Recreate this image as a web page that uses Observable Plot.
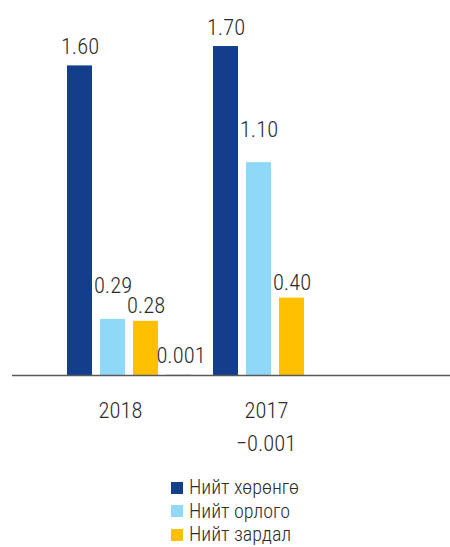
<!DOCTYPE html>
<html>
<head>
<meta charset="utf-8">
<script src="https://cdn.jsdelivr.net/npm/d3@7"></script>
<script src="https://cdn.jsdelivr.net/npm/@observablehq/plot@0.6"></script>
<style>
  body { margin: 0; background: #fff; }
  #chart { width: 450px; }
  .legend { margin-top: 11px; padding-left: 171px; font-family: "Roboto Condensed", "Open Sans", sans-serif; font-weight: 300; font-size: 20px; color: #2b2b2b; }
  .legend div { height: 23.5px; line-height: 23.5px; display: flex; align-items: center; }
  .legend span.sw { width: 12px; height: 12px; display: inline-block; margin-right: 6px; }
</style>
</head>
<body>
<div id="chart"></div>
<script>
const years = ["2018", "2017"];
const series = ["Нийт хөрөнгө", "Нийт орлого", "Нийт зардал", "Цэвэр ашиг"];
const values2018 = [1.60, 0.29, 0.28, 0.001];
const values2017 = [1.70, 1.10, 0.40, -0.001];
const colors = ["#133e8c", "#8fd8f8", "#ffc000", "#4f5366"];
const legendSeries = series.slice(0, 3);

const data = [];
years.forEach((yr, yi) => {
  const vals = yi === 0 ? values2018 : values2017;
  series.forEach((s, si) => data.push({year: yr, series: s, si, value: vals[si]}));
});

const font = '"Roboto Condensed", "Open Sans", sans-serif';
const band = 146, slot = 33, barW = 25, first = 11;
const labelGap = [12, 26, 8, 12];

const marks = [];
series.forEach((s, si) => {
  const sub = data.filter(d => d.series === s);
  const left = first + slot * si;
  marks.push(Plot.barY(sub, {
    x: "year", y: "value", fill: colors[si],
    insetLeft: left, insetRight: band - left - barW
  }));
  const dx = left + barW / 2 - band / 2;
  const fmt = si === 3 ? d3.format(".3f") : d3.format(".2f");
  marks.push(Plot.text(sub.filter(d => d.value >= 0), {
    x: "year", y: "value", text: d => fmt(d.value),
    dx: dx + (si === 3 ? 2 : 0), dy: -labelGap[si], lineAnchor: "bottom",
    fontSize: 22.5, fontWeight: 300, fill: "#2b2b2b"
  }));
  marks.push(Plot.text(sub.filter(d => d.value < 0), {
    x: "year", y: "value", text: d => fmt(d.value),
    dx: dx - 59, dy: 75, lineAnchor: "bottom",
    fontSize: 22.5, fontWeight: 300, fill: "#2b2b2b"
  }));
});
marks.push(Plot.ruleY([0], {stroke: "#595959", strokeWidth: 1.5}));
marks.push(Plot.axisX({tickSize: 0, tickPadding: 27, dx: -9, fontSize: 22.5, fontWeight: 300, fill: "#2b2b2b", label: null}));

const chart = Plot.plot({
  width: 450,
  height: 465,
  marginLeft: 12,
  marginRight: 0,
  marginTop: 0,
  marginBottom: 90,
  style: {fontFamily: font, background: "#fff", overflow: "visible"},
  x: {type: "band", domain: years, range: [56, 56 + 2 * band], padding: 0},
  y: {domain: [0, 1.9], range: [375, 375 - 1.9 * 193.5], axis: null},
  marks
});
document.getElementById("chart").appendChild(chart);

const legend = document.createElement("div");
legend.className = "legend";
legendSeries.forEach((s, i) => {
  const row = document.createElement("div");
  const sw = document.createElement("span");
  sw.className = "sw";
  sw.style.background = colors[i];
  row.appendChild(sw);
  row.appendChild(document.createTextNode(s));
  legend.appendChild(row);
});
document.body.appendChild(legend);
</script>
</body>
</html>
